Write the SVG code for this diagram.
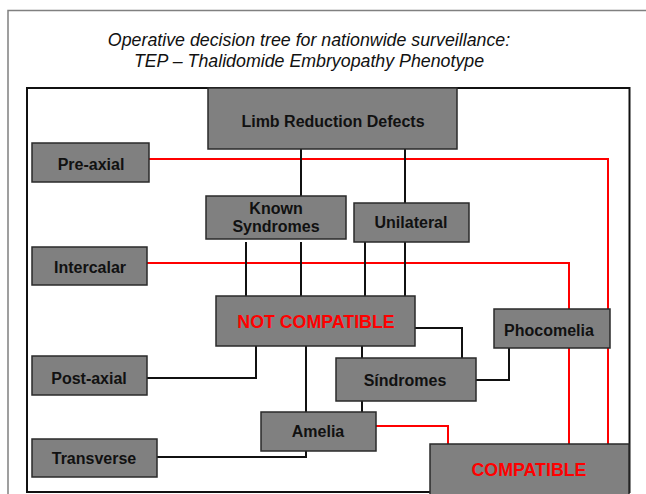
<svg xmlns="http://www.w3.org/2000/svg" width="646" height="494" viewBox="0 0 646 494">
  <style>
    .box { fill: #808080; stroke: #2a2a2a; stroke-width: 1.5; }
    .lbl { font-family: "Liberation Sans", Arial, sans-serif; font-weight: bold; font-size: 16px; fill: #111; text-anchor: middle; dominant-baseline: central; }
    .verdict { font-family: "Liberation Sans", Arial, sans-serif; font-weight: bold; font-size: 17.8px; fill: #ff0000; text-anchor: middle; dominant-baseline: central; }
    .title { font-family: "Liberation Sans", Arial, sans-serif; font-style: italic; font-size: 17.8px; fill: #111; text-anchor: middle; }
    .blk { fill: none; stroke: #111; stroke-width: 2; }
    .red { fill: none; stroke: #ff0000; stroke-width: 2; }
  </style>

  <rect width="646" height="494" fill="#ffffff"/>
  <!-- slide frame -->
  <polyline points="8,494 8,10.5 646,10.5" fill="none" stroke="#808080" stroke-width="1.5"/>

  <text class="title" x="309" y="46">Operative decision tree for nationwide surveillance:</text>
  <text class="title" x="309" y="67">TEP – Thalidomide Embryopathy Phenotype</text>

  <!-- diagram frame -->
  <rect x="27" y="88" width="602.5" height="404" fill="none" stroke="#111" stroke-width="2"/>

  <g id="connectors">
    <!-- red: routes to COMPATIBLE -->
    <polyline class="red" points="149,159 608,159 608,444"/>
    <polyline class="red" points="147,263 569,263 569,444"/>
    <polyline class="red" points="376,426 448,426 448,444"/>
    <!-- black: tree -->
    <line class="blk" x1="301" y1="149" x2="301" y2="196"/>
    <line class="blk" x1="405" y1="149" x2="405" y2="203"/>
    <line class="blk" x1="246" y1="242" x2="246" y2="296"/>
    <line class="blk" x1="301" y1="242" x2="301" y2="296"/>
    <line class="blk" x1="365" y1="242" x2="365" y2="296"/>
    <line class="blk" x1="405" y1="242" x2="405" y2="296"/>
    <polyline class="blk" points="415,328 462,328 462,358"/>
    <line class="blk" x1="362" y1="346" x2="362" y2="358"/>
    <line class="blk" x1="362" y1="401" x2="362" y2="412"/>
    <line class="blk" x1="306" y1="346" x2="306" y2="412"/>
    <polyline class="blk" points="256,346 256,378 147,378"/>
    <polyline class="blk" points="306,451 306,457 157,457"/>
    <polyline class="blk" points="476,380 509,380 509,348"/>
  </g>

  <g id="limb-reduction-defects">
    <rect class="box" x="208" y="88" width="249" height="61"/>
    <text class="lbl" x="333" y="121">Limb Reduction Defects</text>
  </g>
  <g id="pre-axial">
    <rect class="box" x="32" y="143" width="117" height="39"/>
    <text class="lbl" x="91" y="164">Pre-axial</text>
  </g>
  <g id="known-syndromes">
    <rect class="box" x="206" y="196" width="140" height="43"/>
    <text class="lbl" x="276" y="208">Known</text>
    <text class="lbl" x="276" y="226">Syndromes</text>
  </g>
  <g id="unilateral">
    <rect class="box" x="354" y="203" width="115" height="39"/>
    <text class="lbl" x="411" y="222">Unilateral</text>
  </g>
  <g id="intercalar">
    <rect class="box" x="32" y="247" width="115" height="38"/>
    <text class="lbl" x="90" y="267">Intercalar</text>
  </g>
  <g id="not-compatible">
    <rect class="box" x="216" y="296" width="199" height="50"/>
    <text class="verdict" x="316" y="322">NOT COMPATIBLE</text>
  </g>
  <g id="phocomelia">
    <rect class="box" x="494" y="309" width="116" height="39"/>
    <text class="lbl" x="549" y="330">Phocomelia</text>
  </g>
  <g id="sindromes">
    <rect class="box" x="336" y="358" width="140" height="43"/>
    <text class="lbl" x="405" y="380">Síndromes</text>
  </g>
  <g id="post-axial">
    <rect class="box" x="32" y="356" width="115" height="39"/>
    <text class="lbl" x="89" y="378">Post-axial</text>
  </g>
  <g id="amelia">
    <rect class="box" x="261" y="412" width="115" height="39"/>
    <text class="lbl" x="318" y="431">Amelia</text>
  </g>
  <g id="transverse">
    <rect class="box" x="32" y="439" width="125" height="38"/>
    <text class="lbl" x="94" y="458">Transverse</text>
  </g>
  <g id="compatible">
    <rect class="box" x="430" y="444" width="199" height="52"/>
    <text class="verdict" x="529" y="470">COMPATIBLE</text>
  </g>
</svg>
